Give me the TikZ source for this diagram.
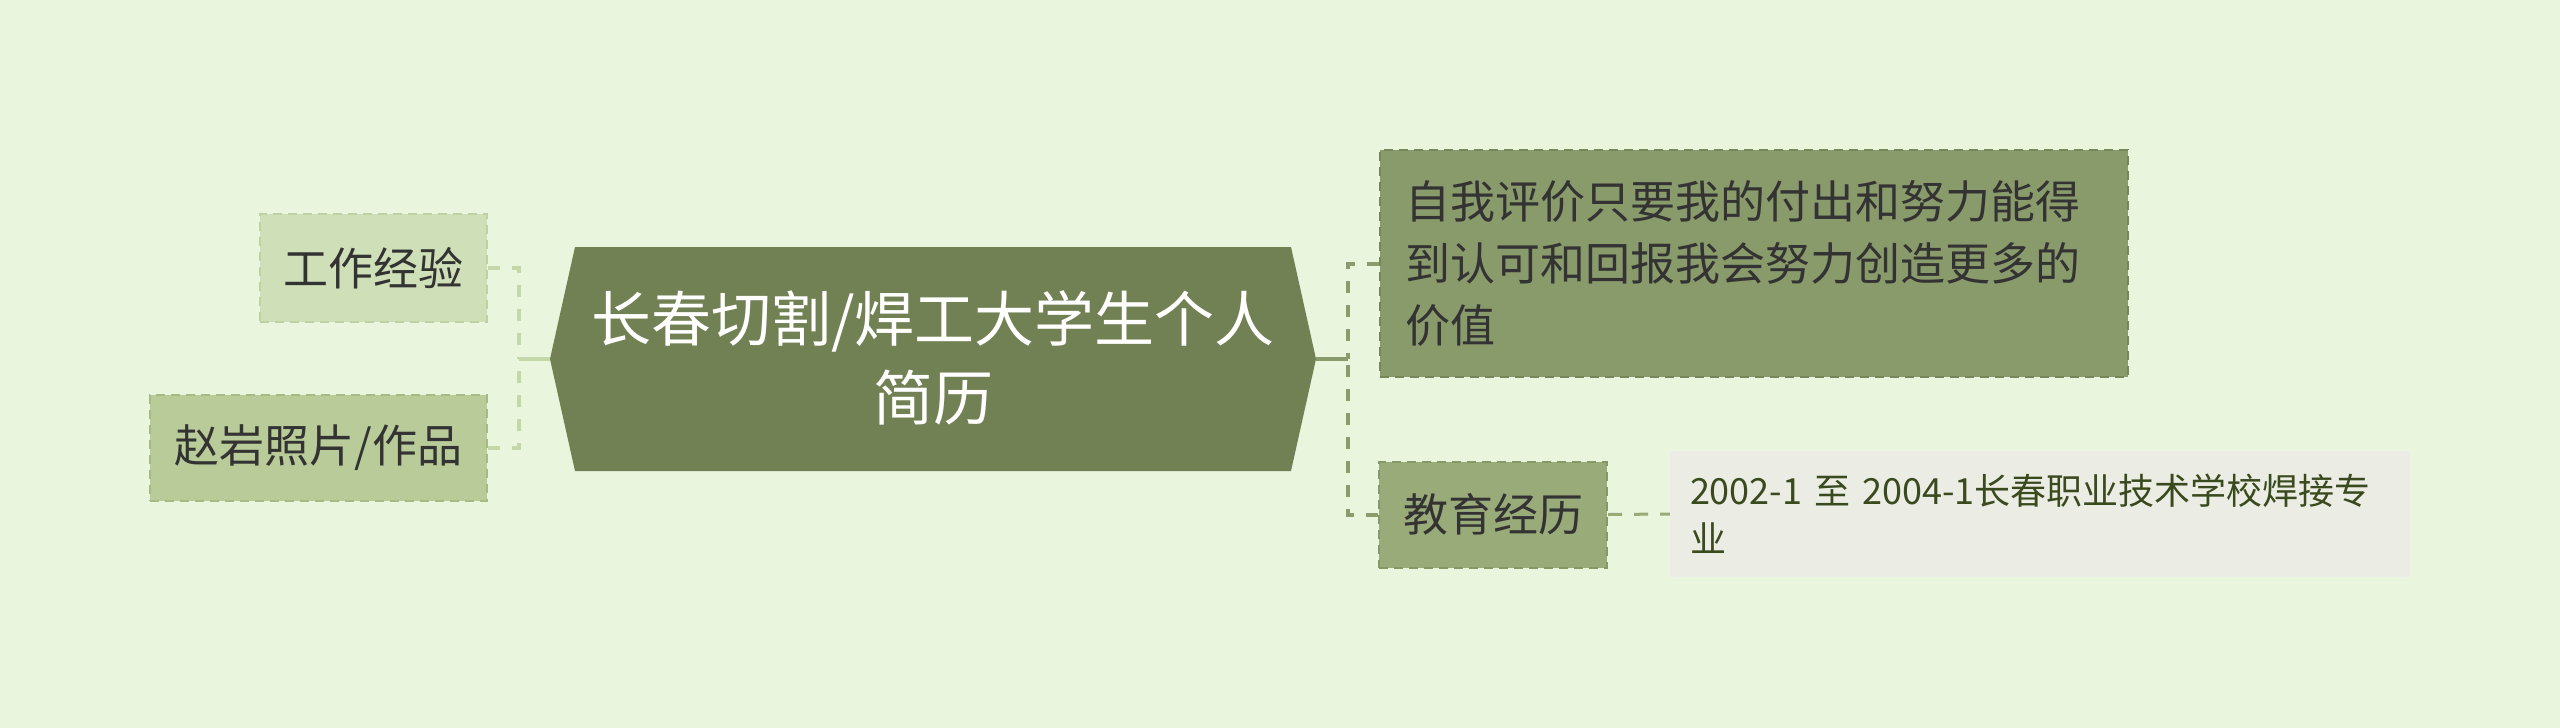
\documentclass[tikz,border=0pt]{standalone}
\usepackage{fontspec}
\setmainfont{Noto Sans CJK SC}
\definecolor{bg}{HTML}{E9F5DD}
\definecolor{cfill}{HTML}{718153}
\definecolor{rs}{HTML}{899A6B}
\definecolor{rsb}{HTML}{76875A}
\definecolor{re}{HTML}{9AAB7A}
\definecolor{reb}{HTML}{879868}
\definecolor{lw}{HTML}{CFE0B8}
\definecolor{lwb}{HTML}{BDD1A3}
\definecolor{lz}{HTML}{B8CB98}
\definecolor{lzb}{HTML}{A6BA86}
\definecolor{leaffill}{HTML}{EBEDE4}
\definecolor{lineR}{HTML}{8A9B6C}
\definecolor{lineL}{HTML}{C3D7A9}
\definecolor{txt}{HTML}{333333}
\definecolor{leaftxt}{HTML}{3B4A1E}
\tikzset{
  bx/.style={rectangle, inner sep=0pt, line width=2pt, dash pattern=on 9pt off 6pt, text=txt, font=\fontsize{45}{62}\selectfont},
  leafbox/.style={rectangle, inner sep=0pt, fill=leaffill, text=leaftxt, font=\fontsize{36}{48}\selectfont},
  conR/.style={draw=lineR, line width=4pt, dash pattern=on 12pt off 12pt},
  conL/.style={draw=lineL, line width=4.5pt, dash pattern=on 12pt off 12pt},
  solR/.style={draw=lineR, line width=4pt},
  solL/.style={draw=lineL, line width=4pt},
  conE/.style={draw=re, line width=3pt, dash pattern=on 14pt off 12pt},
}
\begin{document}
\begin{tikzpicture}[x=1pt,y=-1pt]
\useasboundingbox (0,0) rectangle (2560,728);
\fill[bg] (0,0) rectangle (2560,728);
% central hexagon
\coordinate (cl) at (550,359);
\coordinate (cr) at (1316,359);
\fill[cfill] (cl) -- (575,247) -- (1291,247) -- (cr) -- (1291,471) -- (575,471) -- cycle;
\node[align=center, text=white, font=\fontsize{60}{79}\selectfont] (c) at (933,358) {长春切割/焊工大学生个人\\简历};
% left nodes
\node[bx, fill=lw, draw=lwb, minimum width=227, minimum height=108] (work) at (373.5,268) {工作经验};
\node[bx, fill=lz, draw=lzb, minimum width=337, minimum height=106] (photo) at (318.5,448) {赵岩照片/作品};
% right nodes
\node[bx, fill=rs, draw=rsb, minimum width=748, minimum height=227, text width=698, align=left] (self) at (1754,263.5) {自我评价只要我的付出和努力能得\\到认可和回报我会努力创造更多的\\价值};
\node[bx, fill=re, draw=reb, minimum width=228, minimum height=106] (edu) at (1493,514.5) {教育经历};
\node[leafbox, minimum width=740, minimum height=126, text width=700, align=left] (leaf) at (2040,514) {2002-1 至 2004-1长春职业技术学校焊接专\\业};
% connectors
\coordinate (jl) at (519,359);
\coordinate (jr) at (1348,359);
\draw[conL] (work.east) -| (jl);
\draw[conL] (photo.east) -| (jl);
\draw[solL] (cl) -- (jl);
\draw[conR] (self.west) -| (jr);
\draw[conR] (edu.west) -| (jr);
\draw[solR] (cr) -- (jr);
\draw[conE] (edu.east) -- (leaf.west);
\end{tikzpicture}
\end{document}
